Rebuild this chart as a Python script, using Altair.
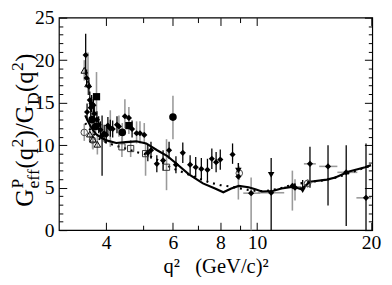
import altair as alt
import pandas as pd

FONT = "Liberation Serif"
W, H = 320, 217
GREY = "#9a9a9a"

# ---------------- data ----------------
# filled diamonds, black vertical error bars
dia_q2 = [3.53, 3.55, 3.60, 3.62, 3.66, 3.70, 3.56, 3.72, 3.64, 3.78, 3.82, 3.86, 3.90, 3.95,
          4.00, 4.04, 4.10, 4.16, 4.27, 4.68, 5.15, 5.25, 5.44, 5.65, 5.86, 6.11, 6.37, 6.66,
          6.89, 7.13, 7.40, 7.60, 7.80, 8.00, 8.62, 10.9, 13.8, 15.4, 17.2, 19.4]
dia_val = [20.6, 17.9, 16.9, 15.3, 14.9, 14.7, 13.9, 13.7, 14.4, 13.0, 12.4, 11.8, 11.1, 11.4,
           11.2, 12.3, 12.0, 11.9, 12.4, 11.9, 9.1, 9.4, 7.8, 8.2, 9.4, 7.7, 9.1, 7.7,
           7.4, 7.2, 7.1, 8.4, 8.0, 8.3, 8.9, 4.4, 7.8, 7.5, 6.8, 3.8]
dia_lo = [18.2, 16.9, 15.9, 14.3, 13.9, 13.7, 12.9, 12.7, 13.4, 12.0, 11.4, 10.8, 6.4, 10.4,
          10.2, 11.3, 11.0, 10.9, 11.4, 10.9, 8.1, 8.4, 6.8, 7.0, 8.4, 6.7, 7.9, 6.6,
          6.2, 5.9, 5.8, 7.2, 6.8, 7.1, 7.8, 0.0, 5.0, 2.9, 0.5, 0.0]
dia_hi = [23.1, 18.9, 17.9, 16.3, 15.9, 15.7, 14.9, 14.7, 15.4, 14.0, 13.4, 12.8, 13.5, 12.4,
          12.2, 13.3, 13.0, 12.9, 13.4, 12.9, 10.1, 10.4, 8.8, 9.4, 10.4, 8.7, 10.3, 8.8,
          8.6, 8.5, 8.4, 9.6, 9.2, 9.5, 10.2, 6.5, 9.8, 10.0, 10.0, 10.2]

# filled diamonds, grey vertical error bars
dg_q2 = [4.10, 4.32, 4.48, 4.59, 4.81, 4.91, 5.04, 8.93, 9.65, 12.4, 12.6]
dg_val = [12.0, 12.2, 13.4, 13.2, 11.4, 11.4, 11.2, 6.3, 4.35, 5.2, 5.0]
dg_lo = [9.8, 11.0, 12.0, 12.0, 10.2, 10.2, 10.2, 3.6, 0.0, 2.3, 3.5]
dg_hi = [14.1, 13.5, 15.4, 14.5, 12.8, 12.8, 12.6, 7.9, 6.2, 7.0, 6.0]

# filled circles, grey error bars
fc_q2 = [3.67, 3.75, 4.41, 6.00]
fc_val = [13.0, 12.2, 11.5, 13.3]
fc_lo = [12.0, 11.2, 10.4, 10.7]
fc_hi = [14.0, 13.2, 12.6, 15.8]

# open circles, grey error bars
oc_q2 = [3.50, 3.68, 8.98, 13.6]
oc_val = [11.5, 10.6, 6.7, 5.5]
oc_lo = [10.5, 9.6, 5.9, 5.0]
oc_hi = [12.5, 11.6, 7.5, 6.0]

# open up-triangles, grey error bars
ot_q2 = [3.50, 3.58, 3.62, 3.69, 3.79]
ot_val = [18.8, 17.2, 11.3, 10.7, 10.1]
ot_lo = [17.6, 15.9, 10.3, 9.5, 8.9]
ot_hi = [20.0, 20.9, 12.3, 11.9, 11.3]

# filled squares, grey error bars
fs_q2 = [3.77, 4.59]
fs_val = [15.7, 12.3]
fs_lo = [13.4, 11.3]
fs_hi = [18.6, 13.3]

# filled down-triangles, black bars above
dt_q2 = [8.93, 10.9, 13.2]
dt_val = [7.0, 6.5, 4.7]
dt_lo = [7.0, 6.5, 4.7]
dt_hi = [7.9, 8.5, 5.9]

# open squares, grey error bars
os_q2 = [4.40, 4.64, 5.08, 5.77]
os_val = [9.8, 9.6, 9.0, 7.4]
os_lo = [8.6, 8.6, 6.4, 4.7]
os_hi = [11.0, 10.6, 10.2, 10.7]

# horizontal (grey) error bars
hb_val = [4.35, 4.4, 5.1, 7.8, 7.5, 6.8, 3.8]
hb_lo = [9.2, 10.05, 11.8, 13.3, 14.6, 16.3, 18.3]
hb_hi = [10.2, 11.8, 13.1, 14.3, 16.3, 18.4, 20.0]

# solid curve
sol_q2 = [3.52, 3.58, 3.66, 3.76, 3.90, 4.05, 4.25, 4.50, 4.80, 5.10, 5.45, 5.80, 6.10,
          6.60, 7.20, 7.75, 8.15, 8.55, 8.95, 9.50, 9.90, 10.3, 11.0, 11.6, 12.5, 13.1,
          13.8, 15.3, 16.1, 17.5, 19.3, 20.0]
sol_val = [13.5, 12.8, 12.0, 11.3, 10.8, 10.5, 10.25, 10.35, 10.45, 10.2, 9.4, 8.7, 7.9,
           6.6, 5.5, 4.9, 4.45, 4.9, 5.2, 5.05, 4.8, 4.55, 4.6, 4.9, 5.1, 4.8,
           5.7, 5.95, 6.2, 6.9, 7.4, 7.65]

# dotted curve
dot_q2 = [3.52, 3.70, 3.90, 4.20, 4.50, 4.80, 5.10, 5.50, 5.90, 6.30, 6.90, 7.50, 8.00,
          8.60, 9.30, 10.0, 10.6, 11.5, 12.3, 13.0, 14.0, 15.0, 16.5, 18.0, 20.0]
dot_val = [12.6, 11.3, 10.5, 10.0, 9.6, 9.2, 8.9, 8.2, 7.4, 6.9, 6.2, 5.6, 5.3,
           5.1, 4.8, 4.6, 4.6, 4.9, 5.3, 5.5, 5.7, 5.85, 6.3, 6.9, 7.6]

# axis ticks
x_major = [4, 6, 8, 10, 20]
x_minor = [5, 7, 9]
y_major = [0, 5, 10, 15, 20, 25]
y_minor = [v for v in range(0, 26) if v % 5]

# y-axis title pieces (text, role)
ytitle = [("G", "main"), ("P", "sup"), ("eff", "sub"), ("(q", "main"), ("2", "sup"),
          (")/G", "main"), ("D", "sub"), ("(q", "main"), ("2", "sup"), (")", "main")]

# ---------------- chart ----------------
xscale = alt.Scale(type="log", domain=[3, 20.15], nice=False)
yscale = alt.Scale(domain=[0, 25], nice=False)


def pts(q2, val, lo, hi):
    return pd.DataFrame({"q2": q2, "val": val, "lo": lo, "hi": hi})


def X(field="q2", axis=None):
    return alt.X(f"{field}:Q", scale=xscale, axis=axis)


def Y(field="val", axis=None):
    return alt.Y(f"{field}:Q", scale=yscale, axis=axis)


def vbar(df, color, width):
    return alt.Chart(df).mark_rule(color=color, strokeWidth=width).encode(
        x=X(), y=Y("lo"), y2="hi:Q")


def marker(df, shape, filled, size, color="black", sw=1.0):
    return alt.Chart(df).mark_point(shape=shape, filled=filled, size=size, color=color,
                                    strokeWidth=sw, opacity=1).encode(x=X(), y=Y())


dia = pts(dia_q2, dia_val, dia_lo, dia_hi)
dg = pts(dg_q2, dg_val, dg_lo, dg_hi)
fc = pts(fc_q2, fc_val, fc_lo, fc_hi)
oc = pts(oc_q2, oc_val, oc_lo, oc_hi)
ot = pts(ot_q2, ot_val, ot_lo, ot_hi)
fs = pts(fs_q2, fs_val, fs_lo, fs_hi)
dt = pts(dt_q2, dt_val, dt_lo, dt_hi)
osq = pts(os_q2, os_val, os_lo, os_hi)
hb = pd.DataFrame({"val": hb_val, "lo": hb_lo, "hi": hb_hi})
sol = pd.DataFrame({"q2": sol_q2, "val": sol_val})
dot = pd.DataFrame({"q2": dot_q2, "val": dot_val})

label_style = dict(labelFont=FONT, labelFontSize=20, labelColor="black",
                   domain=False, grid=False, ticks=False, tickSize=0, labelFlush=False)

x_lab_axis = alt.Axis(orient="bottom", values=x_major, format="d", labelPadding=3,
                      title="q\u00b2\u00a0\u00a0\u00a0(GeV/c)\u00b2", titleFont=FONT,
                      titleFontSize=21, titleFontWeight="normal", titleColor="black",
                      titlePadding=3, **label_style)
y_lab_axis = alt.Axis(orient="left", values=y_major, labelPadding=5, title=None,
                      **label_style)


def tick_axis(orient, vals, size, off):
    return alt.Axis(orient=orient, offset=off, values=vals, labels=False, domain=False,
                    grid=False, ticks=True, tickSize=size, tickColor="black",
                    tickWidth=1, title=None)


layers = []
# axis layers (invisible lines carrying the axes)
axis_specs = [
    (x_lab_axis, y_lab_axis),
    (tick_axis("top", x_major, 8, -H), tick_axis("right", y_major, 8, -W)),
    (tick_axis("bottom", x_major, 8, -H), tick_axis("left", y_major, 8, -W)),
    (tick_axis("top", x_minor, 5, -H), tick_axis("right", y_minor, 4, -W)),
    (tick_axis("bottom", x_minor, 5, -H), tick_axis("left", y_minor, 4, -W)),
]
for ax, ay in axis_specs:
    layers.append(alt.Chart(sol).mark_line(opacity=0).encode(x=X(axis=ax), y=Y(axis=ay)))

# error bars
for df in (dg, fc, oc, ot, fs, osq):
    layers.append(vbar(df, GREY, 1.6))
layers.append(alt.Chart(hb).mark_rule(color=GREY, strokeWidth=1.6).encode(
    x=X("lo"), x2="hi:Q", y=Y("val")))
layers.append(vbar(dia, "black", 1.3))
layers.append(vbar(dt, "black", 1.3))

# curves
layers.append(alt.Chart(sol).mark_line(color="black", strokeWidth=2.2).encode(x=X(), y=Y()))
layers.append(alt.Chart(dot).mark_line(color="black", strokeWidth=2.2,
                                       strokeDash=[2, 5]).encode(x=X(), y=Y()))

# markers
layers.append(marker(osq, "square", False, 40, "#333333", 1.0))
layers.append(marker(oc, "circle", False, 45, "#444444", 1.0))
layers.append(marker(ot, "triangle-up", False, 45, "black", 1.0))
layers.append(marker(fs, "square", True, 55))
layers.append(marker(fc, "circle", True, 60))
layers.append(marker(dg, "diamond", True, 40))
layers.append(marker(dia, "diamond", True, 40))
layers.append(marker(dt, "triangle-down", True, 45))

# y-axis title built from text pieces (rotated)
MAIN, SCRIPT = 25, 18
char_w = {"G": 0.722, "P": 0.556, "e": 0.444, "f": 0.333, "(": 0.333, ")": 0.333,
          "q": 0.5, "2": 0.5, "/": 0.278, "D": 0.722}
title_df = pd.DataFrame({"k": [0]})
ypos = 193.0
for txt, role in ytitle:
    size = MAIN if role == "main" else SCRIPT
    w = sum(char_w[c] for c in txt) * size + 0.5
    xoff = {"main": -26, "sup": -37, "sub": -20}[role]
    layers.append(alt.Chart(title_df).mark_text(
        text=txt, font=FONT, fontSize=size, angle=270, align="left",
        baseline="alphabetic", color="black").encode(
        x=alt.value(xoff), y=alt.value(ypos)))
    if role == "sup" and txt == "P":
        continue  # subscript "eff" stacks under the superscript "P"
    ypos -= w

chart = alt.layer(*layers).resolve_axis(x="independent", y="independent").properties(
    width=W, height=H,
    autosize=alt.AutoSizeParams(type="none"),
    padding={"left": 52, "top": 7, "right": 12, "bottom": 45},
).configure_view(stroke="black", strokeWidth=1.2).configure_axis(grid=False)

chart.save("out.html", embed_options={"renderer": "svg", "actions": False})
